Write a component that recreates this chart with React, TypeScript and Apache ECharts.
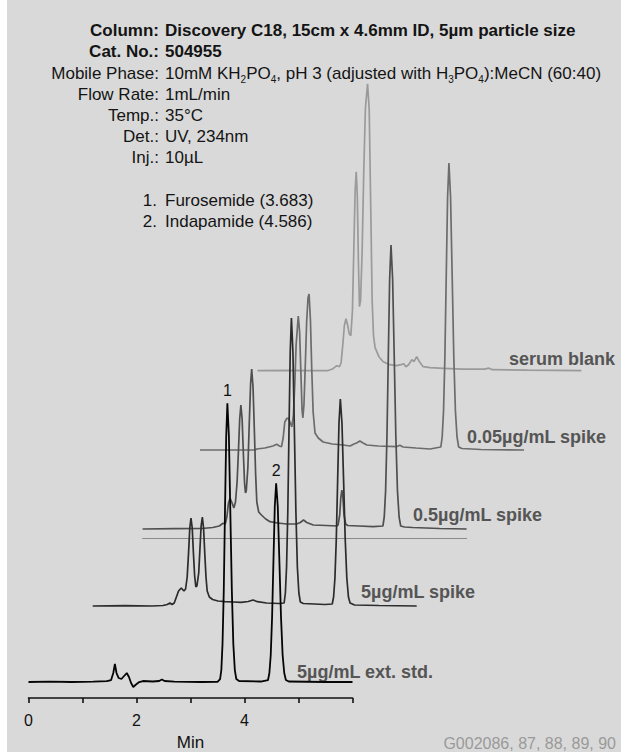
import React, { useEffect, useRef } from 'react';
import * as echarts from 'echarts';

// ---- Axis ----
const timeTicks = [0, 1, 2, 3, 4, 5, 6];
const tickLabels = ['0', '', '2', '', '4', '', ''];
const axisName = 'Min';

// ---- Header info ----
const infoLabels = ['Column:', 'Cat. No.:', 'Mobile Phase:', 'Flow Rate:', 'Temp.:', 'Det.:', 'Inj.:'];
const infoValues = [
  'Discovery C18, 15cm x 4.6mm ID, 5µm particle size',
  '504955',
  '10mM KH{s|2}PO{s|4}, pH 3 (adjusted with H{s|3}PO{s|4}):MeCN (60:40)',
  '1mL/min',
  '35°C',
  'UV, 234nm',
  '10µL',
];
const infoBold = [true, true, false, false, false, false, false];
const compoundNumbers = ['1.', '2.'];
const compoundNames = ['Furosemide (3.683)', 'Indapamide (4.586)'];
const peakNumbers = ['1', '2'];
const peakTimes = [3.683, 4.586];

// ---- Trace names ----
const traceNames = ['serum blank', '0.05µg/mL spike', '0.5µg/mL spike', '5µg/mL spike', '5µg/mL ext. std.'];
const footer = 'G002086, 87, 88, 89, 90';

// ---- Series values: [time (min), detector response (rel.)] ----
const serumBlank = [
  [0, 0], [0.6, 0.3], [1.0, 0], [1.3, 0], [1.4, 2], [1.47, 5], [1.52, 4], [1.55, 8], [1.58, 25], [1.61, 45],
  [1.64, 52], [1.67, 46], [1.7, 37], [1.73, 35], [1.76, 60], [1.785, 120], [1.81, 180], [1.83, 199], [1.85, 175],
  [1.87, 110], [1.89, 64], [1.91, 70], [1.94, 120], [1.97, 200], [2.0, 262], [2.04, 287], [2.07, 262], [2.1, 160],
  [2.125, 70], [2.15, 35], [2.18, 23], [2.25, 14], [2.33, 9], [2.45, 6], [2.58, 5], [2.66, 6], [2.71, 7], [2.75, 4],
  [2.8, 6], [2.86, 11], [2.9, 9], [2.95, 14], [3.0, 9], [3.07, 4], [3.2, 3], [3.44, 2.4], [3.8, 1.5], [4.2, 1.5],
  [4.29, 2.5], [4.35, 1], [5.0, 0.5], [6.0, 0],
];
const spike005 = [
  [0, 0], [0.6, 0], [1.02, 0], [1.05, 1], [1.2, 2], [1.35, 4], [1.42, 5.7], [1.47, 4], [1.51, 3.3], [1.54, 12],
  [1.57, 28], [1.61, 31.7], [1.64, 31.7], [1.7, 23], [1.73, 35], [1.755, 65], [1.78, 105], [1.82, 134], [1.845, 118],
  [1.868, 78], [1.89, 40], [1.905, 32], [1.925, 45], [1.95, 85], [1.975, 128], [2.0, 152], [2.02, 156], [2.045, 130],
  [2.07, 80], [2.095, 38], [2.13, 17], [2.19, 12], [2.28, 8], [2.45, 6], [2.65, 5], [2.78, 4], [2.85, 6], [2.9, 7],
  [2.96, 9], [3.02, 7], [3.09, 5], [3.3, 4], [3.64, 3.3], [3.7, 4.7], [3.76, 3], [4.0, 2], [4.26, 1], [4.46, 3],
  [4.485, 13], [4.51, 39], [4.535, 93], [4.56, 174], [4.585, 253], [4.61, 287], [4.64, 253], [4.67, 174], [4.7, 93],
  [4.73, 39], [4.76, 13], [4.79, 3], [4.85, 1.5], [5.2, 0.5], [6.0, 0],
];
const spike05 = [
  [0, 0], [0.6, 0.3], [1.1, 0.5], [1.3, 1.5], [1.42, 3], [1.49, 5.7], [1.53, 5], [1.56, 12], [1.59, 26], [1.62, 30.7],
  [1.65, 27], [1.69, 21], [1.72, 27], [1.75, 47], [1.775, 78], [1.798, 110], [1.82, 124], [1.843, 110], [1.865, 77],
  [1.888, 46], [1.905, 36], [1.92, 38], [1.95, 62], [1.975, 105], [2.0, 145], [2.02, 160], [2.045, 142], [2.07, 98],
  [2.093, 55], [2.115, 27], [2.15, 17], [2.2, 14], [2.28, 10], [2.36, 7.3], [2.5, 6], [2.67, 5], [2.85, 5], [2.92, 6.5],
  [2.98, 9], [3.04, 6.5], [3.16, 4], [3.4, 3.5], [3.6, 3], [3.62, 4], [3.65, 14], [3.67, 31], [3.69, 39], [3.71, 31],
  [3.73, 14], [3.76, 5], [3.8, 3.5], [4.0, 3], [4.27, 2.3], [4.45, 3], [4.475, 12], [4.5, 38], [4.525, 92], [4.55, 172],
  [4.575, 250], [4.6, 284], [4.63, 250], [4.66, 172], [4.69, 92], [4.72, 38], [4.75, 12], [4.78, 3], [4.85, 2],
  [5.0, 1.5], [5.5, 0.5], [6.0, 0],
];
const spike5 = [
  [0, 0], [0.6, 0.3], [1.1, 0], [1.3, 0.5], [1.38, 1.5], [1.43, 3], [1.47, 1.5], [1.51, 3], [1.55, 9], [1.59, 15],
  [1.64, 18], [1.69, 15], [1.72, 17], [1.75, 29], [1.775, 53], [1.798, 78], [1.82, 88], [1.843, 78], [1.865, 53],
  [1.888, 30], [1.91, 19], [1.93, 20], [1.963, 33], [1.985, 56], [2.008, 80], [2.03, 89], [2.053, 78], [2.075, 53],
  [2.098, 29], [2.12, 15], [2.16, 9], [2.22, 6.5], [2.32, 5], [2.45, 4.3], [2.6, 4], [2.75, 3.7], [2.88, 4.5],
  [2.97, 6], [3.05, 4.3], [3.22, 3], [3.45, 2.5], [3.545, 3], [3.568, 13], [3.59, 39], [3.613, 94], [3.635, 175],
  [3.658, 254], [3.68, 288], [3.708, 254], [3.735, 175], [3.763, 94], [3.79, 39], [3.818, 13], [3.845, 4], [3.9, 2.5],
  [4.1, 2], [4.3, 1.5], [4.436, 2], [4.461, 9], [4.486, 28], [4.511, 67], [4.536, 126], [4.561, 183], [4.586, 207],
  [4.616, 183], [4.646, 126], [4.676, 67], [4.706, 28], [4.736, 9], [4.766, 3], [4.85, 1], [5.3, 0.5], [6.0, 0],
];
const extStd = [
  [0, 0], [0.4, 0.3], [0.8, 0], [1.2, 0.3], [1.45, 0.8], [1.53, 2], [1.57, 9], [1.6, 18], [1.63, 9], [1.67, 4],
  [1.72, 3], [1.77, 6], [1.82, 9], [1.86, 5], [1.9, -1], [1.94, -5], [1.98, -3], [2.05, 0], [2.12, 1], [2.3, 0.5],
  [2.42, 1], [2.47, 2.5], [2.52, 1], [2.7, 0.3], [3.2, 0], [3.5, 0.2], [3.548, 3], [3.571, 12], [3.593, 38],
  [3.616, 91], [3.638, 169], [3.661, 246], [3.683, 279], [3.711, 246], [3.738, 169], [3.766, 91], [3.793, 38],
  [3.821, 12], [3.848, 3], [3.9, 1], [4.3, 0.5], [4.436, 2], [4.461, 9], [4.486, 27], [4.511, 65], [4.536, 121],
  [4.561, 176], [4.586, 199], [4.616, 176], [4.646, 121], [4.676, 65], [4.706, 27], [4.736, 9], [4.766, 2],
  [4.82, 0.5], [5.5, 0], [6.0, 0],
];

const traceData = [serumBlank, spike005, spike05, spike5, extStd];

// ---- Layout / style (pixels) ----
const FONT = '"Liberation Sans", Arial, Helvetica, sans-serif';
const Y_MAX = 300;
const TRACE_W = 324;
const traceLayout = [
  { x0: 257.4, base: 370.7, pad: 10, color: '#9a9a9a', label: [509, 359] },
  { x0: 200, base: 450, pad: 10, color: '#6c6c6c', label: [467, 437] },
  { x0: 142.6, base: 529, pad: 9.3, color: '#4f4f4f', label: [413, 515] },
  { x0: 92.7, base: 606, pad: 10, color: '#2c2c2c', label: [361, 592] },
  { x0: 28.5, base: 682.3, pad: 16, color: '#050505', label: [297, 672] },
];

export default function App() {
  const ref = useRef<HTMLDivElement>(null);
  useEffect(() => {
    if (!ref.current) return;
    const chart = echarts.init(ref.current, null, { renderer: 'svg' });
    const n = traceLayout.length;
    const grid = traceLayout.map((l) => ({
      left: l.x0, top: l.base - Y_MAX, width: TRACE_W, height: Y_MAX + l.pad, containLabel: false,
    }));
    const xAxis = traceLayout.map((l, i) => {
      const isMain = i === n - 1;
      const isThin = i === 2;
      return {
        type: 'value', gridIndex: i, min: 0, max: 6, interval: 1,
        show: isMain || isThin,
        position: 'bottom',
        splitLine: { show: false },
        axisLine: {
          show: true, onZero: false,
          lineStyle: isMain ? { color: '#111', width: 1.6 } : { color: '#8a8a8a', width: 1 },
        },
        axisTick: { show: isMain, length: 5, lineStyle: { color: '#111', width: 1.6 } },
        axisLabel: {
          show: isMain, margin: 14, color: '#111', fontSize: 16, fontFamily: FONT,
          formatter: (v: number) => tickLabels[timeTicks.indexOf(v)] ?? '',
        },
        name: isMain ? axisName : '',
        nameLocation: 'middle', nameGap: 36,
        nameTextStyle: { color: '#111', fontSize: 17, fontFamily: FONT },
      };
    });
    const yAxis = traceLayout.map((l, i) => ({
      type: 'value', gridIndex: i, min: -l.pad, max: Y_MAX, show: false, splitLine: { show: false },
    }));
    const series: any[] = traceLayout.map((l, i) => ({
      type: 'line', name: traceNames[i], xAxisIndex: i, yAxisIndex: i, data: traceData[i],
      showSymbol: false, symbol: 'none', smooth: false, clip: false,
      lineStyle: { color: l.color, width: i === n - 1 ? 1.8 : 1.7 },
      z: 2 + i,
    }));
    // peak number labels on the external standard trace
    series[n - 1].markPoint = {
      symbol: 'circle', symbolSize: 1, itemStyle: { color: 'rgba(0,0,0,0)' },
      label: {
        show: true, position: 'top', distance: 4, color: '#111', fontSize: 16, fontFamily: FONT,
        formatter: (p: any) => p.name,
      },
      data: peakTimes.map((t, k) => {
        const pt = extStd.find((d) => Math.abs(d[0] - t) < 1e-6) || [t, 0];
        return { name: peakNumbers[k], coord: [pt[0], pt[1]] };
      }),
    };

    const graphic: any[] = [
      { type: 'rect', shape: { x: 0, y: 0, width: 7, height: 752 }, style: { fill: '#ffffff' }, silent: true },
    ];
    const lineY = (k: number) => 30.7 + k * 21.2;
    infoLabels.forEach((lab, k) => {
      const w = infoBold[k] ? 'bold ' : '';
      graphic.push({
        type: 'text', x: 159, y: lineY(k),
        style: { text: lab, align: 'right', verticalAlign: 'middle', fill: '#141414', font: `${w}17px ${FONT}` },
      });
      graphic.push({
        type: 'text', x: 165, y: lineY(k),
        style: {
          text: infoValues[k], align: 'left', verticalAlign: 'middle', fill: '#141414',
          font: `${w}17px ${FONT}`, lineHeight: 22,
          rich: { s: { fontSize: 10, fontFamily: FONT, fill: '#141414', lineHeight: 9, verticalAlign: 'bottom' } },
        },
      });
    });
    compoundNumbers.forEach((num, k) => {
      const y = 200 + k * 21.7;
      graphic.push({
        type: 'text', x: 157, y,
        style: { text: num, align: 'right', verticalAlign: 'middle', fill: '#141414', font: `17px ${FONT}` },
      });
      graphic.push({
        type: 'text', x: 165, y,
        style: { text: compoundNames[k], align: 'left', verticalAlign: 'middle', fill: '#141414', font: `17px ${FONT}` },
      });
    });
    traceLayout.forEach((l, i) => {
      graphic.push({
        type: 'text', x: l.label[0], y: l.label[1],
        style: { text: traceNames[i], align: 'left', verticalAlign: 'middle', fill: '#555555', font: `bold 18px ${FONT}` },
      });
    });
    graphic.push({
      type: 'text', x: 616, y: 743,
      style: { text: footer, align: 'right', verticalAlign: 'middle', fill: '#9a9a9a', font: `16px ${FONT}` },
    });

    chart.setOption({
      animation: false,
      backgroundColor: '#d9d9d9',
      grid, xAxis, yAxis, series, graphic,
    });
    return () => chart.dispose();
  }, []);
  return (
    <div
      ref={ref}
      style={{ position: 'absolute', left: 0, top: 0, width: 621, height: 752, background: '#d9d9d9' }}
    />
  );
}
